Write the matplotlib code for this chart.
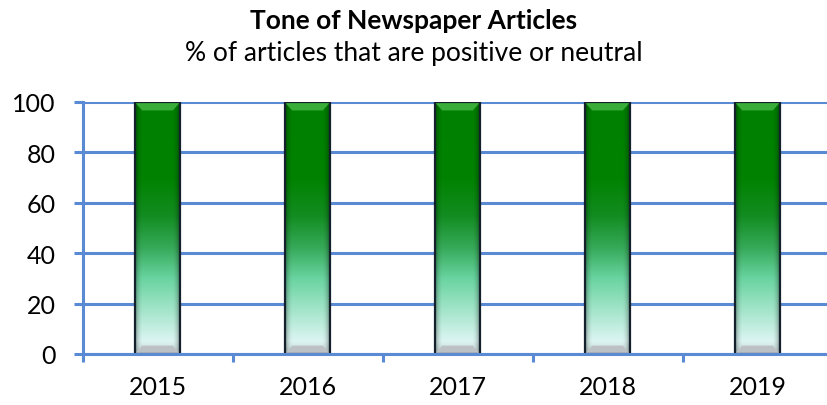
import numpy as np
import matplotlib
matplotlib.use('Agg')
import matplotlib.pyplot as plt
from matplotlib.patches import Rectangle

plt.rcParams['font.family'] = ['Lato', 'DejaVu Sans']

# Data
years = ['2015', '2016', '2017', '2018', '2019']
share_positive = [100, 100, 100, 100, 100]

title = 'Tone of Newspaper Articles'
subtitle = '% of articles that are positive or neutral'

grid_blue = '#5A8AD3'
bar_width = 0.3

# vertical colour stops for the bar fill (0 = bottom, 1 = top)
stop_pos = [0.0, 0.05, 0.18, 0.3, 0.42, 0.55, 0.7, 1.0]
stop_rgb = np.array([
    [200, 215, 215],
    [220, 245, 242],
    [160, 228, 200],
    [105, 212, 160],
    [55, 170, 90],
    [18, 140, 32],
    [0, 130, 0],
    [0, 128, 0],
]) / 255.0


def bar_image(h=300, w=60):
    t = np.linspace(0, 1, h)[::-1]
    col = np.stack([np.interp(t, stop_pos, stop_rgb[:, k]) for k in range(3)], axis=1)
    img = np.repeat(col[:, None, :], w, axis=1)
    # slightly darker towards the sides
    u = np.linspace(-1, 1, w)
    shade = 1 - 0.35 * np.clip((np.abs(u) - 0.65) / 0.35, 0, 1) ** 2
    img = img * shade[None, :, None]
    # bevels: lighter green cap at top, grey plinth at bottom
    bev = int(h * 0.035)
    for r in range(bev):
        inset = int((r + 1) / bev * w * 0.15)
        img[r, inset:w - inset] = [0.22, 0.68, 0.22]
        img[h - 1 - r, inset:w - inset] = [0.74, 0.76, 0.78]
    return np.clip(img, 0, 1)


fig = plt.figure(figsize=(8.28, 4.06), dpi=100)
ax = fig.add_axes([83 / 828, 51 / 406, 750 / 828, 252 / 406])

x = np.arange(len(years))

ax.yaxis.grid(True, color=grid_blue, linewidth=2.2, zorder=0)
ax.set_axisbelow(True)

img = bar_image()
bars = ax.bar(x, share_positive, width=bar_width, color='none', edgecolor='#14202c',
              linewidth=1.6, zorder=3)
for xi, v in zip(x, share_positive):
    im = ax.imshow(img, extent=(xi - bar_width / 2, xi + bar_width / 2, 0, v),
                   aspect='auto', zorder=2, interpolation='bilinear')
    clip = Rectangle((xi - bar_width / 2, 0), bar_width, v, transform=ax.transData)
    im.set_clip_path(clip)
ax.set_xlim(-0.5, len(years) - 0.5)
ax.set_ylim(0, 100)

for side in ['top', 'right']:
    ax.spines[side].set_visible(False)
for side in ['left', 'bottom']:
    ax.spines[side].set_color(grid_blue)
    ax.spines[side].set_linewidth(2.2)
    ax.spines[side].set_zorder(4)

ax.set_yticks([0, 20, 40, 60, 80, 100])
ax.tick_params(axis='y', direction='out', length=6.5, width=2.2, color=grid_blue,
               labelsize=18, pad=13)
ax.set_xticks(x)
ax.set_xticklabels(years)
ax.set_xticks(np.arange(-0.5, len(years), 1.0), minor=True)
ax.tick_params(axis='x', which='major', length=0, labelsize=18, pad=15)
ax.tick_params(axis='x', which='minor', direction='out', length=6, width=2.2,
               color=grid_blue)

fig.text(0.5, 1 - 21 / 406, title, ha='center', va='center', fontsize=19,
         fontweight='bold')
fig.text(0.5, 1 - 53 / 406, subtitle, ha='center', va='center', fontsize=19)

fig.savefig('out.png', dpi=100)
